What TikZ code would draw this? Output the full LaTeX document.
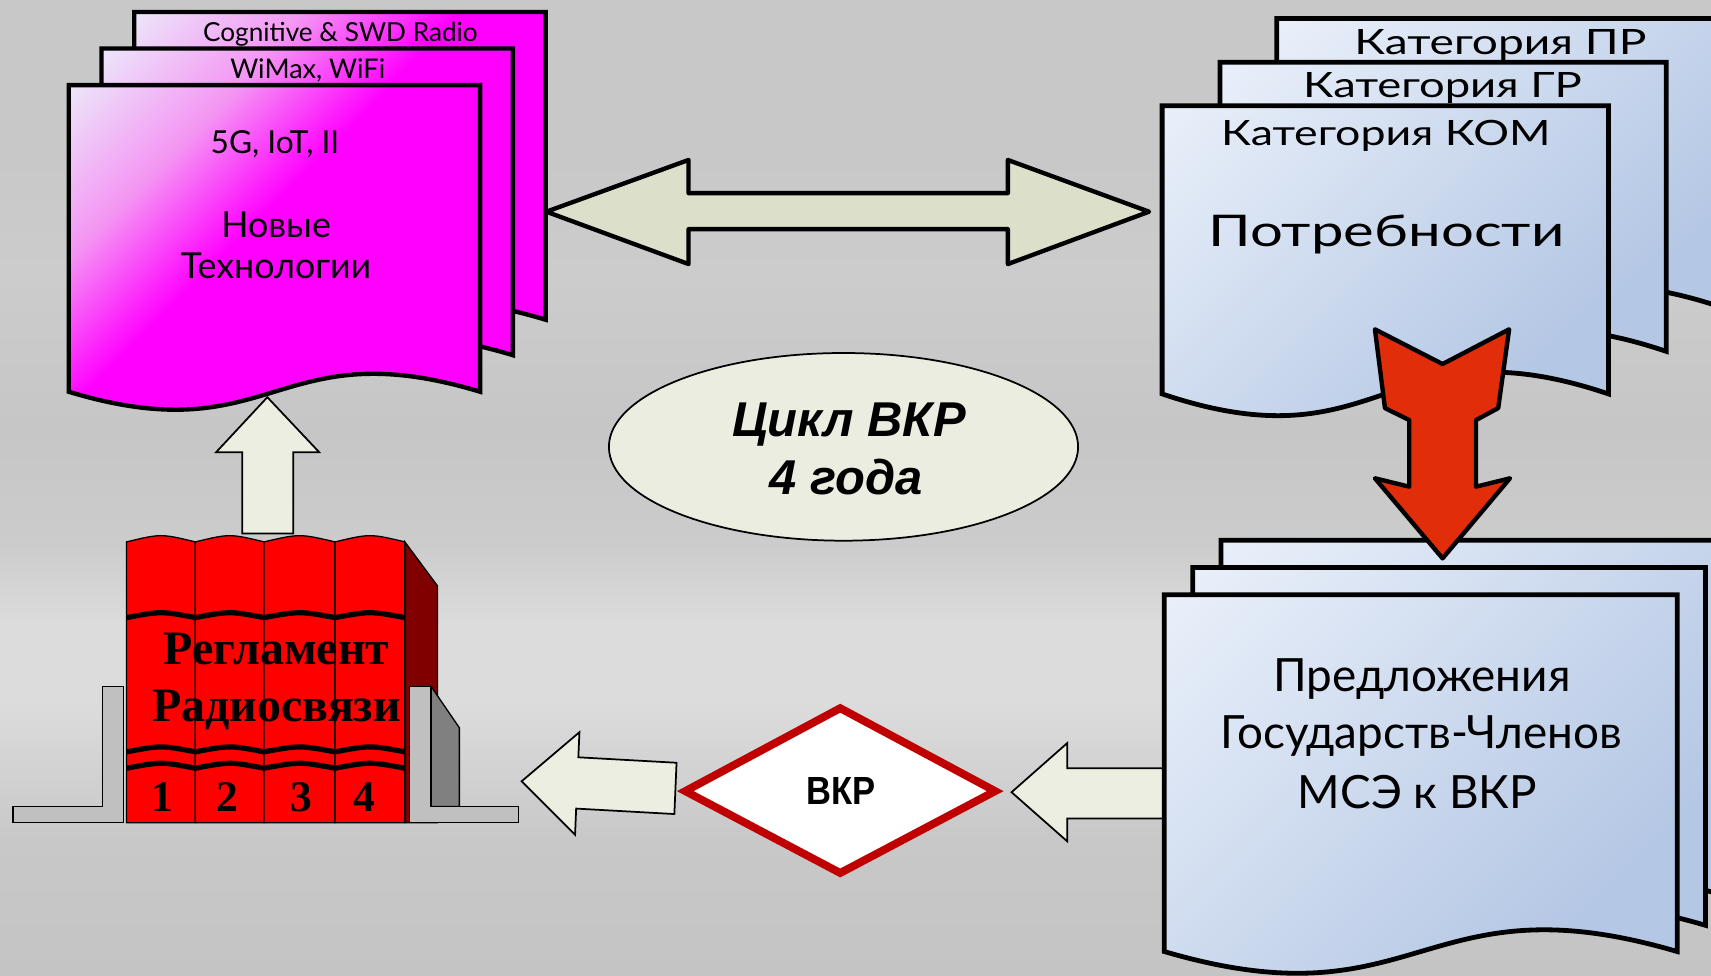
\documentclass[tikz,border=0pt]{standalone}
\usepackage{fontspec}
\setmainfont{Lato}
\newfontfamily\arialf{Liberation Sans}
\newfontfamily\timesf{Liberation Serif}
\usetikzlibrary{shapes.geometric}
\definecolor{bgA}{RGB}{200,200,200}
\definecolor{bgB}{RGB}{204,204,204}
\definecolor{bgC}{RGB}{198,198,198}
\definecolor{bgD}{RGB}{220,220,220}
\definecolor{bgE}{RGB}{196,196,196}
\definecolor{lav}{RGB}{236,234,250}
\definecolor{magmid}{RGB}{244,150,244}
\definecolor{mag}{RGB}{255,0,255}
\definecolor{blA}{RGB}{234,240,250}
\definecolor{blB}{RGB}{180,199,228}
\definecolor{arrfill}{RGB}{220,224,202}
\definecolor{lightfill}{RGB}{236,238,226}
\definecolor{ellfill}{RGB}{235,237,224}
\definecolor{redarr}{RGB}{226,45,10}
\definecolor{dred}{RGB}{192,0,0}
\definecolor{bookred}{RGB}{255,0,0}
\definecolor{bookside}{RGB}{128,0,0}
\definecolor{endlight}{RGB}{192,192,192}
\definecolor{enddark}{RGB}{128,128,128}
\pgfdeclareverticalshading{bgsh}{100bp}{color(0bp)=(bgE); color(25bp)=(bgE); color(32bp)=(bgA); color(39bp)=(bgD); color(43bp)=(bgD); color(47bp)=(bgB); color(53bp)=(bgC); color(61bp)=(bgB); color(67bp)=(bgA); color(75bp)=(bgA); color(100bp)=(bgA)}
\pgfdeclareverticalshading{magsh}{100bp}{color(0bp)=(mag); color(56bp)=(mag); color(70bp)=(magmid); color(86bp)=(lav); color(100bp)=(lav)}
\pgfdeclareverticalshading{bluesh}{100bp}{color(0bp)=(blB); color(30bp)=(blB); color(86bp)=(blA); color(100bp)=(blA)}
\newcommand\docpage[6]{%
  \pgfmathsetmacro\dpR{#1+#3}\pgfmathsetmacro\dpB{#2+#4}\pgfmathsetmacro\dpM{#1+#3/2}%
  \pgfmathsetmacro\dpU{#2+#4-#5}\pgfmathsetmacro\dpD{#2+#4+#5}%
  \draw[#6] (#1,#2) -- (\dpR,#2) -- (\dpR,\dpB) .. controls (\dpM,\dpU) and (\dpM,\dpD) .. (#1,\dpB) -- cycle;}
\newcommand\spine[3]{%
  \draw[fill=bookred, line width=0.6pt] (#1,754) -- (#1,496.6) .. controls (#2,489) .. (#3,496.6) -- (#3,754) -- cycle;
  \draw[bandline] (#1,566) .. controls (#2,560) .. (#3,566);
  \draw[bandline] (#1,689) .. controls (#2,683) .. (#3,689);
  \draw[bandline] (#1,704) .. controls (#2,698) .. (#3,704);}
\tikzset{
  magpage/.style={shading=magsh, shading angle=45, draw=black, line width=2pt, line join=miter},
  bluepage/.style={shading=bluesh, shading angle=45, draw=black, line width=2.2pt, line join=miter},
  thinarrow/.style={fill=lightfill, draw=black, line width=0.8pt, line join=miter},
  bandline/.style={draw=black, line width=2.4pt},
  hand/.style={inner sep=0pt, anchor=base, text=black},
}
\begin{document}
\begin{tikzpicture}[x=0.5pt,y=-0.5pt]
\useasboundingbox (0,0) rectangle (1568,894);
\shade[shading=bgsh] (0,0) rectangle (1568,894);
% double arrow
\draw[fill=arrfill, line width=2pt, line join=round] (500.7,194) -- (631,146.6) -- (631,177) -- (923.6,177) -- (923.6,146.6) -- (1053,194) -- (923.6,242) -- (923.6,210) -- (631,210) -- (631,242) -- cycle;
% magenta stack
\docpage{123}{11}{377}{282}{57}{magpage}
\docpage{93}{44.5}{377}{281}{57}{magpage}
\docpage{63}{78}{377}{281}{57}{magpage}
\node[hand, font=\fontsize{12}{14}\selectfont] (cog) at (312,38) {Cognitive \& SWD Radio};
\node[hand, font=\fontsize{12.4}{15}\selectfont] (wimax) at (282,71.8) {WiMax, WiFi};
\node[hand, font=\fontsize{14.5}{16}\selectfont] (fiveg) at (252,140.5) {5G, IoT, II};
\node[hand, font=\fontsize{16.4}{18}\selectfont] (newA) at (253,217.5) {Новые};
\node[hand, font=\fontsize{16.4}{18}\selectfont] (newB) at (253,255) {Технологии};
% up arrow
\draw[thinarrow] (245,364) -- (292.6,414.5) -- (268.8,414.5) -- (268.8,488.8) -- (222,488.8) -- (222,414.5) -- (198,414.5) -- cycle;
% top blue stack
\docpage{1170}{17}{409}{265}{69}{bluepage}
\docpage{1118}{57}{409}{265}{69}{bluepage}
\docpage{1065}{97}{409}{264}{69}{bluepage}
\node[hand, font=\fontsize{16}{18}\selectfont] (catPR) at (1375,49.5) {\scalebox{1.32}[1]{Категория ПР}};
\node[hand, font=\fontsize{16}{18}\selectfont] (catGR) at (1322,89) {\scalebox{1.3}[1]{Категория ГР}};
\node[hand, font=\fontsize{16}{18}\selectfont] (catKOM) at (1270,133.5) {\scalebox{1.28}[1]{Категория КОМ}};
\node[hand, font=\fontsize{20}{24}\selectfont] (needs) at (1270.5,226) {\scalebox{1.33}[1]{Потребности}};
% right arrow (proposals -> WRC)
\draw[thinarrow] (927,726) -- (978,681) -- (978,704) -- (1075,704) -- (1075,750) -- (978,750) -- (978,771) -- cycle;
% bottom blue stack
\docpage{1119}{495}{470}{328}{69}{bluepage}
\docpage{1093}{520}{470}{328}{69}{bluepage}
\docpage{1067}{545}{470}{327}{69}{bluepage}
\node[hand, font=\fontsize{21}{26}\selectfont] (propA) at (1303,633.8) {Предложения};
\node[hand, font=\fontsize{21}{26}\selectfont] (propB) at (1302.5,685.8) {Государств-Членов};
\node[hand, font=\fontsize{21}{26}\selectfont] (propC) at (1299,740.7) {МСЭ к ВКР};
% red arrow
\draw[fill=redarr, line width=2pt, line join=round] (1260,301.8) -- (1322,333.6) -- (1383,301.8) -- (1373,374) -- (1352.6,385) -- (1352.6,446) -- (1383.8,438.3) -- (1322,511.7) -- (1260,438.3) -- (1291.5,446) -- (1291.5,385) -- (1269.2,374) -- cycle;
% ellipse
\node[ellipse, draw=black, line width=0.8pt, fill=ellfill, minimum width=215pt, minimum height=86pt, inner sep=0pt] (cycle) at (773,409.5) {};
\node[hand, font=\arialf\bfseries\itshape\fontsize{22.4}{26}\selectfont] (cycA) at (778,400) {Цикл ВКР};
\node[hand, font=\arialf\bfseries\itshape\fontsize{22.4}{26}\selectfont] (cycB) at (775.6,453.6) {4 года};
% diamond
\draw[draw=dred, fill=white, line width=3.6pt, miter limit=10] (628,725) -- (770,649) -- (912,725) -- (770,800) -- cycle;
\node[hand, font=\arialf\bfseries\fontsize{18}{20}\selectfont] (wrc) at (771,737.7) {\scalebox{0.88}[1]{ВКР}};
% left arrow (WRC -> RR)
\draw[thinarrow] (478,716) -- (531,671) -- (530,694) -- (620,699) -- (618,746) -- (528,741) -- (527,765) -- cycle;
% books
\draw[fill=bookside, line width=0.6pt] (371,496.6) -- (401,537) -- (401,754) -- (371,754) -- cycle;
\spine{116}{147.5}{179}
\spine{179}{210.5}{242}
\spine{242}{274.5}{307}
\spine{307}{339}{371}
\node[hand, font=\timesf\bfseries\fontsize{22}{26}\selectfont] (rrA) at (253.4,609.4) {Регламент};
\node[hand, font=\timesf\bfseries\fontsize{22}{26}\selectfont] (rrB) at (253.4,661.3) {Радиосвязи};
\node[hand, font=\timesf\bfseries\fontsize{20}{24}\selectfont] (v1) at (149,743.8) {1};
\node[hand, font=\timesf\bfseries\fontsize{20}{24}\selectfont] (v2) at (208,743.8) {2};
\node[hand, font=\timesf\bfseries\fontsize{20}{24}\selectfont] (v3) at (276,743.8) {3};
\node[hand, font=\timesf\bfseries\fontsize{20}{24}\selectfont] (v4) at (334,743.8) {4};
% bookends
\draw[fill=endlight, line width=0.6pt] (94,629) -- (113,629) -- (113,754) -- (12,754) -- (12,739) -- (94,739) -- cycle;
\draw[fill=enddark, line width=0.6pt] (395,629) -- (421,667) -- (421,739) -- (395,739) -- cycle;
\draw[fill=endlight, line width=0.6pt] (375,629) -- (395,629) -- (395,739) -- (475,739) -- (475,754) -- (375,754) -- cycle;
\end{tikzpicture}
\end{document}
